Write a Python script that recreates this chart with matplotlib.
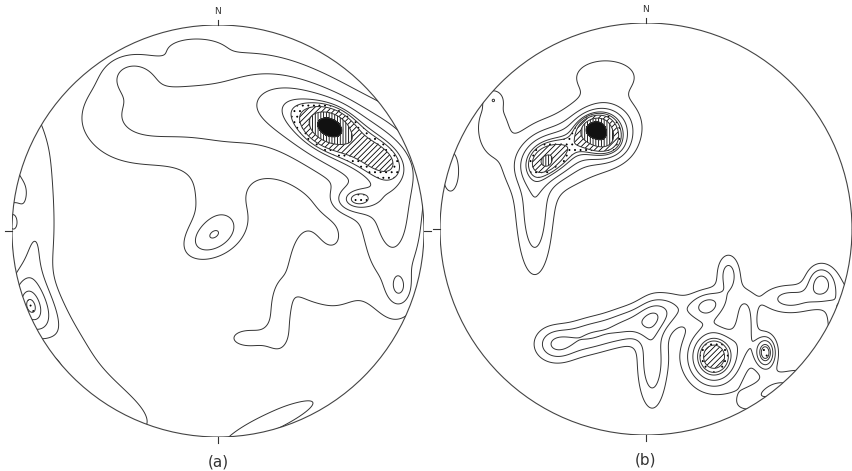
import numpy as np
import matplotlib
matplotlib.use("Agg")
import matplotlib.pyplot as plt
from matplotlib.patches import Circle

# Density maxima (x east, y north, unit radius).
# amp = height of the maximum, sx/sy = spread, ang = tilt in degrees

a_x   = [0.54, 0.58, 0.60, 0.85, 0.66, 0.88, -0.45, -0.15, 0.15, -0.42, -0.11, -0.03, 0.00, 0.30, 0.15, 0.55, 0.42, 0.25, -0.95, -1.00, -0.92, -0.75, -0.50, -0.85, -0.90, 0.80]
a_y   = [0.51, 0.48, 0.35, 0.00, 0.15, -0.28, 0.55, 0.60, 0.55, 0.76, 0.89, -0.03, 0.10, -0.40, -0.52, -0.25, -0.15, -0.93, 0.45, 0.05, -0.38, -0.50, -0.85, 0.15, -0.10, 0.35]
a_amp = [3.3, 4.2, 1.8, 2.5, 2.5, 1.5, 1.6, 1.4, 1.4, 1.3, 1.2, 2.2, 1.2, 1.4, 1.3, 1.4, 1.3, 1.3, 1.8, 1.8, 3.4, 1.4, 1.3, 1.1, 1.2, 1.1]
a_sx  = [0.07, 0.24, 0.35, 0.12, 0.07, 0.04, 0.20, 0.20, 0.20, 0.08, 0.08, 0.10, 0.12, 0.05, 0.10, 0.10, 0.06, 0.32, 0.05, 0.03, 0.07, 0.08, 0.08, 0.08, 0.06, 0.08]
a_sy  = [0.055, 0.10, 0.20, 0.30, 0.045, 0.06, 0.18, 0.20, 0.20, 0.06, 0.03, 0.06, 0.15, 0.15, 0.05, 0.12, 0.12, 0.06, 0.12, 0.06, 0.11, 0.30, 0.20, 0.30, 0.15, 0.05]
a_ang = [-20, -30, -45, 0, 0, 0, 0, 0, 0, 0, 0, 30, 0, 0, 0, 0, 0, 25, 0, 0, 20, 35, 60, 0, 0, -30]

b_x   = [-0.22, -0.47, -0.35, -0.26, -0.18, -0.48, -0.20, -0.75, -0.74, -0.95, -0.54,
         -0.44, -0.28, -0.10, 0.07, 0.30, 0.40, 0.03, 0.33, 0.48, 0.58, 0.70, 0.85, 0.95, 0.62]
b_y   = [0.47, 0.35, 0.40, 0.50, 0.41, 0.32, 0.75, 0.50, 0.63, 0.28, 0.05,
         -0.56, -0.52, -0.47, -0.41, -0.37, -0.22, -0.64, -0.62, -0.45, -0.60, -0.34, -0.26, -0.45, -0.78]
b_amp = [5.6, 4.6, 1.6, 2.8, 1.8, 0.8, 1.4, 1.4, 1.2, 1.5, 2.5,
         2.8, 2.6, 2.6, 2.6, 3.2, 2.4, 2.8, 6.2, 2.4, 5.0, 2.4, 3.3, 2.3, 2.2]
b_sx  = [0.09, 0.10, 0.25, 0.05, 0.06, 0.02, 0.13, 0.07, 0.03, 0.04, 0.06,
         0.07, 0.09, 0.09, 0.09, 0.07, 0.04, 0.05, 0.085, 0.04, 0.035, 0.10, 0.05, 0.05, 0.14]
b_sy  = [0.075, 0.07, 0.15, 0.035, 0.05, 0.02, 0.07, 0.12, 0.03, 0.10, 0.20,
         0.06, 0.06, 0.06, 0.06, 0.05, 0.07, 0.16, 0.095, 0.10, 0.055, 0.05, 0.06, 0.12, 0.05]
b_ang = [20, 30, 30, 20, 0, 0, 0, 0, 0, 0, 0,
         0, 15, 20, 25, 20, 0, 0, 0, 0, 0, 0, 0, 0, 25]

line_levels = [1, 2, 3, 4]
fill_levels = [4.5, 5.2, 6.5, 8.0, 100]
fill_hatch = ['...', '//////', '||||||', None]
labels = ["(a)", "(b)"]


def density(xs, ys, amps, sxs, sys_, angs, X, Y):
    Z = np.zeros_like(X)
    for x0, y0, A, sx, sy, an in zip(xs, ys, amps, sxs, sys_, angs):
        t = np.radians(an)
        u = (X - x0) * np.cos(t) + (Y - y0) * np.sin(t)
        v = -(X - x0) * np.sin(t) + (Y - y0) * np.cos(t)
        Z += A * np.exp(-0.5 * ((u / sx)**2 + (v / sy)**2))
    return Z


g = np.linspace(-1.02, 1.02, 500)
X, Y = np.meshgrid(g, g)

plt.rcParams['hatch.linewidth'] = 0.6
plt.rcParams['hatch.color'] = 'black'

fig = plt.figure(figsize=(8.53, 4.71), dpi=100)
W, H = 853, 471
# net centres and radius in pixels
centres = [(218, 231), (646, 229)]
R = 206

data = [(a_x, a_y, a_amp, a_sx, a_sy, a_ang), (b_x, b_y, b_amp, b_sx, b_sy, b_ang)]

for k in range(2):
    cx, cy = centres[k]
    ax = fig.add_axes([(cx - R) / W, (H - cy - R) / H, 2 * R / W, 2 * R / H])
    ax.set_xlim(-1, 1)
    ax.set_ylim(-1, 1)
    ax.set_aspect('equal')
    ax.axis('off')

    Z = density(*data[k], X, Y)
    clip = Circle((0, 0), 1.0, transform=ax.transData)

    cf = ax.contourf(X, Y, Z, levels=fill_levels, colors='none', hatches=fill_hatch)
    cb = ax.contourf(X, Y, Z, levels=fill_levels[-2:], colors='#111111')
    cl = ax.contour(X, Y, Z, levels=line_levels + fill_levels[:-1],
                    colors='#333333', linewidths=0.7)
    for c in (cf, cb, cl):
        c.set_clip_path(clip)

    ax.add_patch(Circle((0, 0), 1.0, fill=False, ec='#444444', lw=0.8))

    # small ticks at N, E, S, W
    ax.plot([0, 0], [1.0, 1.025], color='#333333', lw=0.8, clip_on=False)
    ax.plot([0, 0], [-1.0, -1.03], color='#333333', lw=0.8, clip_on=False)
    ax.plot([-1.0, -1.035], [0, 0], color='#333333', lw=0.8, clip_on=False)
    ax.plot([1.0, 1.035], [0, 0], color='#333333', lw=0.8, clip_on=False)
    ax.text(0, 1.045, "N", ha='center', va='bottom', fontsize=6.5, color='#333333')
    ax.text(0, -1.12, labels[k], ha='center', va='center', fontsize=11, color='#333333')

plt.savefig("out.png", dpi=100)
